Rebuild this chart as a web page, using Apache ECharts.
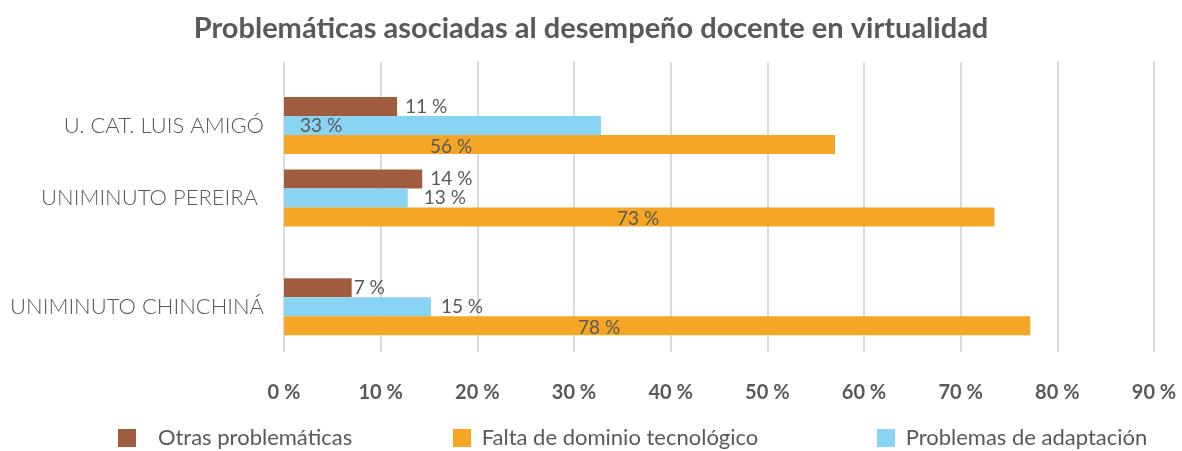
<!DOCTYPE html>
<html>
<head>
<meta charset="utf-8">
<script src="https://cdn.jsdelivr.net/npm/echarts@6.0.0/dist/echarts.min.js"></script>
<style>
  html, body { margin: 0; padding: 0; background: #fff; }
  #chart { width: 1182px; height: 451px; }
</style>
</head>
<body>
<div id="chart"></div>
<script>
// universidades, de arriba hacia abajo
const universidades = ['U. CAT. LUIS AMIGÓ', 'UNIMINUTO PEREIRA ', 'UNIMINUTO CHINCHINÁ']
// largo de las barras (%)
const otras = [11.7, 14.3, 7.0]
const adaptacion = [32.8, 12.8, 15.2]
const dominio = [57.0, 73.5, 77.2]
// texto de las etiquetas tal como aparece
const otrasTxt = [11, 14, 7]
const adaptacionTxt = [33, 13, 15]
const dominioTxt = [56, 73, 78]
const nombres = ['Otras problemáticas', 'Falta de dominio tecnológico', 'Problemas de adaptación']

// el original tiene los grupos espaciados de forma irregular:
// se usan filas finas y cada universidad ocupa una de ellas
const filas = 16
const filaDe = [3, 7, 13]

const gris = '#595959'
const fuente = 'Lato'

const ejeY = new Array(filas).fill('')
universidades.forEach((u, i) => { ejeY[filaDe[i]] = u })

function porFila(values, textos, labels) {
  const out = new Array(filas).fill('-')
  values.forEach((v, i) => {
    out[filaDe[i]] = {
      value: v,
      label: Object.assign({ formatter: textos[i] + ' %' }, labels[i])
    }
  })
  return out
}

const labelBase = {
  show: true,
  color: gris,
  fontSize: 19,
  fontFamily: fuente
}

function serie(name, color, data) {
  return {
    name: name,
    type: 'bar',
    barWidth: 19,
    barGap: '0%',
    itemStyle: { color: color },
    label: labelBase,
    data: data
  }
}

function leyenda(name, left, espacios) {
  return {
    data: [name],
    left: left,
    top: 427,
    padding: 0,
    icon: 'rect',
    itemWidth: 18,
    itemHeight: 18,
    formatter: n => espacios + n,
    textStyle: { fontFamily: fuente, fontSize: 22, color: gris }
  }
}

const chart = echarts.init(document.getElementById('chart'))
const option = {
  backgroundColor: '#ffffff',
  animation: false,
  title: {
    text: 'Problemáticas asociadas al desempeño docente en virtualidad',
    left: 'center',
    top: 9,
    textStyle: {
      fontFamily: fuente,
      fontSize: 29,
      fontWeight: 'bold',
      color: gris
    }
  },
  legend: [
    leyenda(nombres[0], 118, '   '),
    leyenda(nombres[1], 453, ' '),
    leyenda(nombres[2], 877, ' ')
  ],
  grid: {
    left: 284,
    right: 28,
    top: 62,
    bottom: 99,
    containLabel: false,
    outerBoundsMode: 'none'
  },
  xAxis: {
    type: 'value',
    min: 0,
    max: 90,
    interval: 10,
    axisLine: { show: false },
    axisTick: { show: false },
    axisLabel: {
      formatter: '{value} %',
      margin: 31,
      fontFamily: fuente,
      fontSize: 20,
      fontWeight: 'bold',
      color: gris
    },
    splitLine: {
      lineStyle: { color: '#cfcfcf', width: 1.5 }
    }
  },
  yAxis: {
    type: 'category',
    inverse: true,
    data: ejeY,
    axisLine: { show: false },
    axisTick: { show: false },
    splitLine: { show: false },
    axisLabel: {
      interval: 0,
      margin: 20,
      fontFamily: fuente,
      fontSize: 22,
      fontWeight: 300,
      color: gris
    }
  },
  series: [
    serie(nombres[0], '#a05c3e', porFila(otras, otrasTxt, [
      { position: 'right', distance: 8 },
      { position: 'right', distance: 8 },
      { position: 'right', distance: 2 }
    ])),
    serie(nombres[2], '#89d3f3', porFila(adaptacion, adaptacionTxt, [
      { position: 'insideLeft', distance: 16 },
      { position: 'right', distance: 16 },
      { position: 'right', distance: 10 }
    ])),
    serie(nombres[1], '#f4a624', porFila(dominio, dominioTxt, [
      { position: 'insideLeft', distance: 146, offset: [0, 2] },
      { position: 'insideLeft', distance: 333, offset: [0, 2] },
      { position: 'insideLeft', distance: 294, offset: [0, 2] }
    ]))
  ]
}
chart.setOption(option)
</script>
</body>
</html>
